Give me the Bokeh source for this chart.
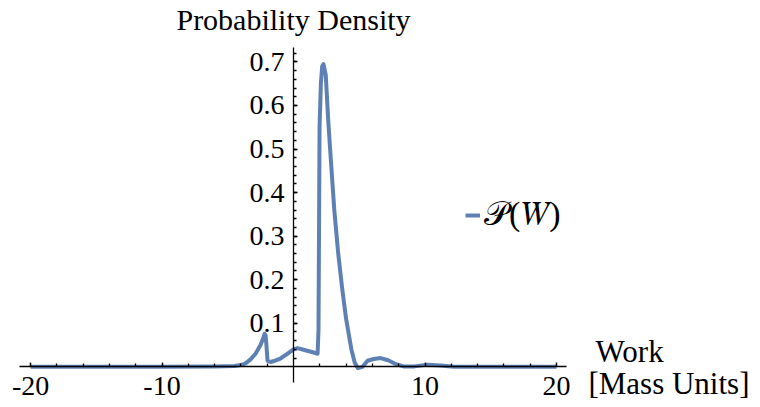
from bokeh.plotting import figure
from bokeh.models import Range1d, LinearAxis, FixedTicker, Label, Legend, LegendItem
from bokeh.embed import file_html
from bokeh.resources import INLINE

# ---- data ----
work = [-20, -15, -10, -6, -4.5, -4.0, -3.65, -3.27, -2.89, -2.51, -2.3, -2.2, -2.12,
        -2.05, -1.98, -1.75, -1.4, -1.0, -0.5, 0.0, 0.3, 0.9, 1.4, 1.83, 1.90, 1.98,
        2.08, 2.18, 2.28, 2.45, 2.65, 2.85, 3.1, 3.4, 3.7, 4.0, 4.4, 4.65, 4.9, 5.25,
        5.63, 6.1, 6.62, 7.2, 7.8, 8.37, 9.2, 10.2, 11.2, 12.2, 14, 17, 20]
density = [0.0, 0.0, 0.0, 0.001, 0.002, 0.004, 0.008, 0.017, 0.03, 0.05, 0.066, 0.076, 0.072,
           0.045, 0.014, 0.011, 0.014, 0.019, 0.029, 0.04, 0.043, 0.038, 0.034, 0.03, 0.085, 0.55,
           0.65, 0.69, 0.695, 0.67, 0.56, 0.47, 0.36, 0.26, 0.18, 0.11, 0.04, 0.01, -0.003, 0.0,
           0.014, 0.018, 0.02, 0.015, 0.006, 0.001, 0.001, 0.005, 0.003, 0.0, 0.0, 0.0, 0.0]

x_major_ticks = [-20, -10, 10, 20]
x_tick_labels = {-20: "-20", -10: "-10", 10: "10", 20: "20"}
x_minor_ticks = [-20, -18, -16, -14, -12, -10, -8, -6, -4, -2, 2, 4, 6, 8, 10, 12, 14, 16, 18, 20]
y_major_ticks = [0.1, 0.2, 0.3, 0.4, 0.5, 0.6, 0.7]
y_minor_ticks = [0.02, 0.04, 0.06, 0.08, 0.1, 0.12, 0.14, 0.16, 0.18, 0.2, 0.22, 0.24, 0.26,
                 0.28, 0.3, 0.32, 0.34, 0.36, 0.38, 0.4, 0.42, 0.44, 0.46, 0.48, 0.5, 0.52,
                 0.54, 0.56, 0.58, 0.6, 0.62, 0.64, 0.66, 0.68, 0.7, 0.72]
x_axis_extent = (-20.84, 20.76)
y_axis_extent = (-0.036, 0.733)

FONT = "Liberation Serif"
FS = "28px"
LINE_COLOR = "#5E81B5"

p = figure(width=760, height=407, output_backend="svg", toolbar_location=None, title=None,
           x_range=Range1d(-22.285, 35.514), y_range=Range1d(-0.0934, 0.841),
           x_axis_location=None, y_axis_location=None,
           min_border_left=0, min_border_right=0, min_border_top=0, min_border_bottom=0)
p.outline_line_color = None
p.grid.grid_line_color = None
p.background_fill_color = "white"
p.border_fill_color = "white"

r = p.line(work, density, line_color=LINE_COLOR, line_width=4, line_join="round")

xaxis = LinearAxis(fixed_location=0, bounds=x_axis_extent,
                   ticker=FixedTicker(ticks=x_major_ticks, minor_ticks=x_minor_ticks),
                   major_label_overrides=x_tick_labels)
yaxis = LinearAxis(fixed_location=0, bounds=y_axis_extent,
                   ticker=FixedTicker(ticks=y_major_ticks, minor_ticks=y_minor_ticks))
for ax in (xaxis, yaxis):
    ax.axis_line_color = "black"
    ax.axis_line_width = 1.3
    ax.major_tick_in = 4
    ax.major_tick_out = 0
    ax.minor_tick_in = 3
    ax.minor_tick_out = 0
    ax.major_tick_line_width = 1.3
    ax.minor_tick_line_width = 1.3
    ax.major_label_text_font = FONT
    ax.major_label_text_font_size = FS
    ax.major_label_text_color = "black"
xaxis.major_label_standoff = 10
yaxis.major_label_standoff = 9
p.add_layout(xaxis, "below")
p.add_layout(yaxis, "left")

p.add_layout(Label(x=0.0, y=0.797, text="Probability Density", text_align="center",
                   text_baseline="alphabetic", text_font=FONT, text_font_size="30px",
                   text_color="black"))
p.add_layout(Label(x=22.97, y=0.035, text="Work", text_align="left",
                   text_baseline="alphabetic", text_font=FONT, text_font_size="31px",
                   text_color="black"))
p.add_layout(Label(x=22.43, y=-0.0385, text="[Mass Units]", text_align="left",
                   text_baseline="alphabetic", text_font=FONT, text_font_size="31px",
                   text_color="black"))

legend = Legend(items=[LegendItem(label="𝒫(𝑊)", renderers=[r])],
                location=(465, 173), padding=0, margin=0, spacing=0,
                glyph_width=15, glyph_height=20, label_standoff=4,
                label_text_font=FONT, label_text_font_size="34px", label_text_color="black",
                border_line_alpha=0, background_fill_alpha=0)
p.add_layout(legend)

open("out.html", "w").write(file_html(p, INLINE))
